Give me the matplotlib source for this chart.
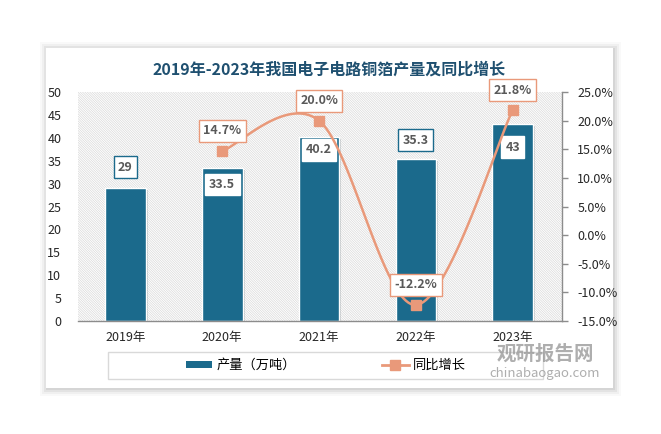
import matplotlib
matplotlib.use("Agg")
import matplotlib.pyplot as plt
import matplotlib.patheffects as pe
from matplotlib.patches import Rectangle
from matplotlib.lines import Line2D
from matplotlib.ticker import FuncFormatter, MultipleLocator
import numpy as np

plt.rcParams["font.family"] = ["Noto Sans CJK SC", "DejaVu Sans"]
plt.rcParams["hatch.linewidth"] = 0.5

years = ["2019年", "2020年", "2021年", "2022年", "2023年"]
output = [29, 33.5, 40.2, 35.3, 43]
growth = [None, 14.7, 20.0, -12.2, 21.8]

BAR = "#1B6A8C"
LINE = "#E9997A"
GRAY = "#595959"

# label offsets in pixels (positive = above)
bar_dy = [21, -17, -13, 19, -23]
bar_boxed = [True, False, False, True, False]
line_dy = 20


def smooth(xs, ys, n=40):
    # Catmull-Rom through the points, like a spreadsheet "smoothed line"
    P = np.column_stack([xs, ys])
    P = np.vstack([P[0], P, P[-1]])
    out = []
    for i in range(1, len(P) - 2):
        p0, p1, p2, p3 = P[i - 1], P[i], P[i + 1], P[i + 2]
        c1 = p1 + (p2 - p0) / 6
        c2 = p2 - (p3 - p1) / 6
        t = np.linspace(0, 1, n)[:, None]
        seg = (1 - t) ** 3 * p1 + 3 * (1 - t) ** 2 * t * c1 + 3 * (1 - t) * t ** 2 * c2 + t ** 3 * p2
        out.append(seg)
    seg = np.vstack(out)
    return seg[:, 0], seg[:, 1]


fig = plt.figure(figsize=(6.61, 4.34), dpi=100)
W, H = 661, 434

# card with soft shadow
for k, a in [(7, 0.025), (5, 0.035), (3, 0.05), (1, 0.06)]:
    fig.patches.append(Rectangle(((46 - k + 1) / W, 1 - (388 + k + 1) / H), (567 + 2 * k) / W, (340 + 2 * k) / H,
                                 transform=fig.transFigure, fc="black", ec="none", alpha=a, zorder=0))
fig.patches.append(Rectangle((46 / W, 1 - 388 / H), 567 / W, 340 / H, transform=fig.transFigure,
                             fc="white", ec="none", zorder=0.5))

ax = fig.add_axes([78 / W, 1 - 321 / H, (562 - 78) / W, (321 - 92) / H])
ax.set_zorder(1)
ax.patch.set_visible(False)
ax.add_patch(Rectangle((0, 0), 1, 1, transform=ax.transAxes, fc="white", ec="#D9D9D9", lw=0,
                       hatch="\\" * 14, zorder=0))

x = np.arange(len(years))
bars = ax.bar(x, output, width=0.42, color=BAR, edgecolor="white", linewidth=1, zorder=2)
for b in bars:
    b.set_path_effects([pe.SimplePatchShadow(offset=(1.5, -1.5), alpha=0.18), pe.Normal()])

ax.set_xlim(-0.49, 4.51)
ax.set_ylim(0, 50)
ax.yaxis.set_major_locator(MultipleLocator(5))
ax.set_xticks(x)
ax.set_xticklabels(years, fontsize=9, color="#262626")
ax.tick_params(axis="x", length=0, pad=7)
ax.tick_params(axis="y", length=0, pad=12, labelsize=9, labelcolor="#262626")
for s in ["top", "right", "left"]:
    ax.spines[s].set_visible(False)
ax.spines["bottom"].set_color("#8C8C8C")
ax.spines["bottom"].set_linewidth(1)

for xi, v, dy, boxed in zip(x, output, bar_dy, bar_boxed):
    ax.annotate(f"{v:g}", (xi, v), xytext=(0, dy), textcoords="offset pixels", ha="center", va="center",
                fontsize=9, fontweight="bold", color=GRAY, zorder=5,
                bbox=dict(boxstyle="square,pad=0.35", fc="white", ec=BAR if boxed else "white", lw=1))

ax2 = ax.twinx()
ax2.set_ylim(-15, 25)
ax2.yaxis.set_major_locator(MultipleLocator(5))
ax2.yaxis.set_major_formatter(FuncFormatter(lambda v, _: f"{v:.1f}%"))
ax2.tick_params(axis="y", length=4, width=1, color="#8C8C8C", pad=7, labelsize=9, labelcolor="#262626")
for s in ["top", "left", "bottom"]:
    ax2.spines[s].set_visible(False)
ax2.spines["right"].set_color("#8C8C8C")
ax2.spines["right"].set_linewidth(1)

gx = np.array([i for i, g in enumerate(growth) if g is not None], dtype=float)
gy = np.array([g for g in growth if g is not None], dtype=float)
# smooth in pixel-proportional space
sy = (229 / 40) / ((562 - 78) / 5.0)
cx, cy = smooth(gx, gy * sy)
ax2.plot(cx, cy / sy, color=LINE, lw=1.8, zorder=3, solid_capstyle="round")
ax2.plot(gx, gy, ls="none", marker="s", ms=7, color=LINE, zorder=4)
for xi, v in zip(gx, gy):
    ax2.annotate(f"{v:.1f}%", (xi, v), xytext=(0, line_dy), textcoords="offset pixels", ha="center",
                 va="center", fontsize=9, fontweight="bold", color=GRAY, zorder=6,
                 bbox=dict(boxstyle="square,pad=0.35", fc="white", ec=LINE, lw=1))

fig.text(329 / W, 1 - 70 / H, "2019年-2023年我国电子电路铜箔产量及同比增长", ha="center", va="center",
         fontsize=11.5, fontweight="bold", color="#1F5070")

# legend
fig.patches.append(Rectangle((108 / W, 1 - 379 / H), (543 - 108) / W, 27 / H, transform=fig.transFigure,
                             fc="white", ec="#D9D9D9", lw=1, zorder=1))
handles = [Rectangle((0, 0), 1, 1, fc=BAR, ec="none"),
           Line2D([], [], color=LINE, lw=2, marker="s", ms=7)]
leg = fig.legend(handles, ["产量（万吨）", "同比增长"], loc="center", bbox_to_anchor=(326 / W, 1 - 365.5 / H),
                 ncol=2, frameon=False, fontsize=9.5, handlelength=2.0, handleheight=0.5,
                 handletextpad=0.35, columnspacing=6.5)
leg.set_zorder(2)

# watermark
fig.text(545 / W, 1 - 354 / H, "观研报告网", ha="center", va="center", fontsize=14, fontweight="bold",
         color="#9A9A9A", alpha=0.8, zorder=3)
fig.text(545 / W, 1 - 374 / H, "chinabaogao.com", ha="center", va="center", fontsize=9.5,
         color="#9A9A9A", alpha=0.8, zorder=3)

fig.savefig("out.png", dpi=100)
